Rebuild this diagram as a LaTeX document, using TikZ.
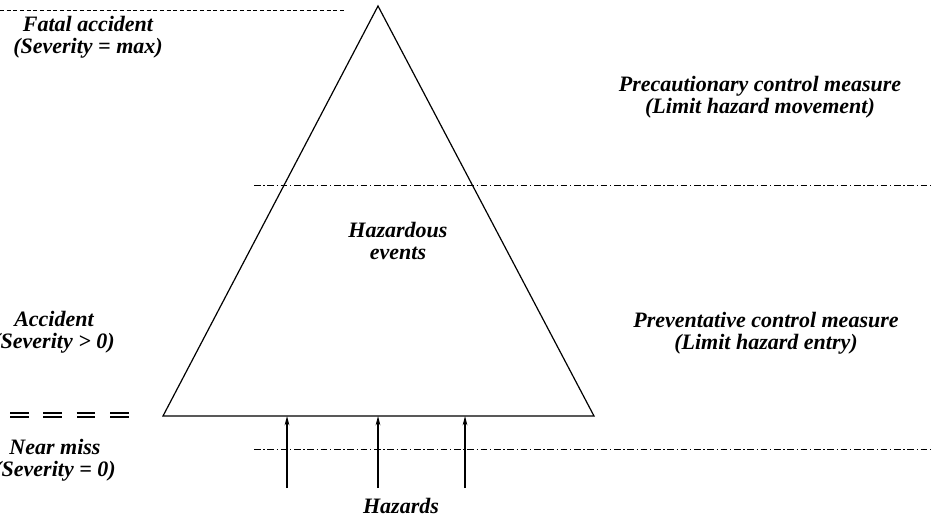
\documentclass[tikz,border=0pt]{standalone}
\usepackage{fontspec}
\setmainfont{Liberation Serif}
\usetikzlibrary{arrows.meta}

\tikzset{
  lbl/.style={font=\fontsize{16.5}{16.5}\selectfont\bfseries\itshape, align=center, inner sep=0pt},
  dashdot/.style={line width=0.5pt, dash pattern=on 5pt off 2pt on 1pt off 2pt},
  hazard/.style={-{Stealth[length=7pt,width=3.5pt]}, line width=0.8pt},
}

\begin{document}
\begin{tikzpicture}[x=0.75pt,y=-0.75pt]
  \clip (0,0) rectangle (934,517);
  % pyramid
  \coordinate (apex) at (378,6);
  \coordinate (bl) at (163,416);
  \coordinate (br) at (594,416);
  \draw[line width=0.9pt] (apex) -- (br) -- (bl) -- cycle;
  \node[lbl] (events) at (398,241) {Hazardous\\events};
  %
  % severity levels, left
  \draw[line width=0.5pt, dash pattern=on 3pt off 2pt] (0,10) -- (346,10);
  \node[lbl] (fatal) at (88,37) {Fatal accident\\(Severity = max)};
  \node[lbl] (accident) at (54,332) {Accident\\(Severity > 0)};
  \draw[line width=1pt, double, double distance=2pt, dash pattern=on 14pt off 11pt] (10,415) -- (131,415);
  \node[lbl] (nearmiss) at (55,460) {Near miss\\(Severity = 0)};
  %
  % control measures, right
  \node[lbl] (precaution) at (760,97) {Precautionary control measure\\(Limit hazard movement)};
  \draw[dashdot] (254,185) -- (934,185);
  \node[lbl] (prevent) at (766,333) {Preventative control measure\\(Limit hazard entry)};
  \draw[dashdot] (254,449) -- (934,449);
  %
  % hazards entering
  \coordinate (src1) at (287,488);
  \coordinate (src2) at (378,488);
  \coordinate (src3) at (465,488);
  \coordinate (in1) at (287,416);
  \coordinate (in2) at (378,416);
  \coordinate (in3) at (465,416);
  \draw[hazard] (src1) -- (in1);
  \draw[hazard] (src2) -- (in2);
  \draw[hazard] (src3) -- (in3);
  \node[lbl] (hazards) at (401,506) {Hazards};
\end{tikzpicture}
\end{document}
